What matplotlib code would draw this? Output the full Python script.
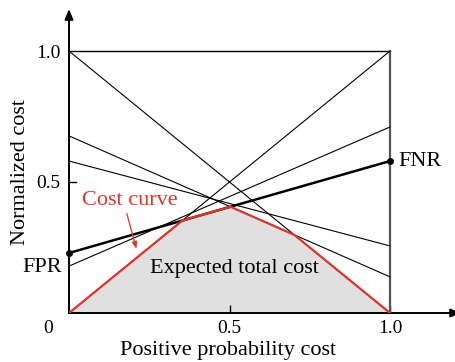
import numpy as np
import matplotlib
matplotlib.use("Agg")
import matplotlib.pyplot as plt

plt.rcParams['font.family'] = ['Liberation Serif', 'DejaVu Serif']

# Classifier lines: normalized cost at probability cost 0 (left) and 1 (right)
trivial_left = [1.0, 0.0]
trivial_right = [0.0, 1.0]
other_left = [0.676, 0.58, 0.179]
other_right = [0.138, 0.256, 0.71]
chosen_fpr = 0.229
chosen_fnr = 0.58

xticks = [0.5, 1.0]
xtick_labels = ["0.5", "1.0"]
yticks = [0.5, 1.0]
ytick_labels = ["0.5", "1.0"]

RED = "#e5332a"
W, H = 455, 362
fig = plt.figure(figsize=(W / 100, H / 100), dpi=100)

x0_px, y0_px = 69, 313          # origin position
ux, uy = 321, 262                # pixels per unit
xmax = (W - x0_px) / ux
ymax = (y0_px - 8) / uy
ax = fig.add_axes([x0_px / W, (H - y0_px) / H, (W - x0_px) / W, (y0_px - 8) / H])
ax.set_xlim(0, xmax)
ax.set_ylim(0, ymax)
for s in ax.spines.values():
    s.set_visible(False)

# Box: top edge and right edge
ax.plot([0, 1], [1, 1], color="black", lw=1.0)
ax.plot([1, 1], [0, 1], color="#555555", lw=1.6)

# Thin classifier lines
for a, b in zip(trivial_left + other_left, trivial_right + other_right):
    ax.plot([0, 1], [a, b], color="black", lw=0.8)

# Highlighted classifier line with end points
ax.plot([0, 1], [chosen_fpr, chosen_fnr], color="black", lw=1.8)
ax.plot([0, 1], [chosen_fpr, chosen_fnr], "o", color="black", ms=4, clip_on=False)

# Lower envelope = cost curve
xs = np.linspace(0, 1, 2001)
lefts = np.array(trivial_left + other_left + [chosen_fpr])
rights = np.array(trivial_right + other_right + [chosen_fnr])
env = np.min(lefts[:, None] + (rights - lefts)[:, None] * xs[None, :], axis=0)
ax.fill_between(xs, 0, env, color="#e0e0e0", lw=0, zorder=0)
ax.plot(xs, env, color=RED, lw=1.6, zorder=5)

# Axes with arrows
ax.annotate("", xy=(0, (y0_px - 9) / uy), xytext=(0, 0),
            arrowprops=dict(arrowstyle="-|>,head_length=0.6,head_width=0.25",
                            color="black", lw=1.4, shrinkA=0, shrinkB=0),
            annotation_clip=False)
ax.annotate("", xy=((W + 6 - x0_px) / ux, 0), xytext=(0, 0),
            arrowprops=dict(arrowstyle="-|>,head_length=0.6,head_width=0.25",
                            color="black", lw=1.4, shrinkA=0, shrinkB=0),
            annotation_clip=False)

ax.set_xticks(xticks)
ax.set_xticklabels(xtick_labels)
ax.set_yticks(yticks)
ax.set_yticklabels(ytick_labels)
ax.tick_params(direction="in", length=6, width=1, labelsize=14)
ax.tick_params(axis="x", pad=5)
ax.tick_params(axis="y", which="both", length=0, pad=6)
ax.plot([0, 0.022], [0.5, 0.5], color="black", lw=1)

ax.text(-0.065, -0.027, "0", ha="center", va="top", fontsize=14)

ax.set_xlabel("Positive probability cost", fontsize=16)
ax.xaxis.set_label_coords(0.412, -0.092)
ax.set_ylabel("Normalized cost", fontsize=16)
ax.yaxis.set_label_coords(-0.101, 0.462)

ax.text(1.025, chosen_fnr, "FNR", ha="left", va="center", fontsize=16)
ax.text(-0.022, 0.172, "FPR", ha="right", va="center", fontsize=16)
ax.text(0.514, 0.168, "Expected total cost", ha="center", va="center", fontsize=16)
ax.text(0.04, 0.43, "Cost curve", ha="left", va="center", fontsize=16, color=RED)
ax.annotate("", xy=(0.21, 0.245), xytext=(0.18, 0.38),
            arrowprops=dict(arrowstyle="-|>,head_length=0.4,head_width=0.15",
                            color=RED, lw=0.9, shrinkA=0, shrinkB=0))

fig.savefig("out.png", dpi=100)
